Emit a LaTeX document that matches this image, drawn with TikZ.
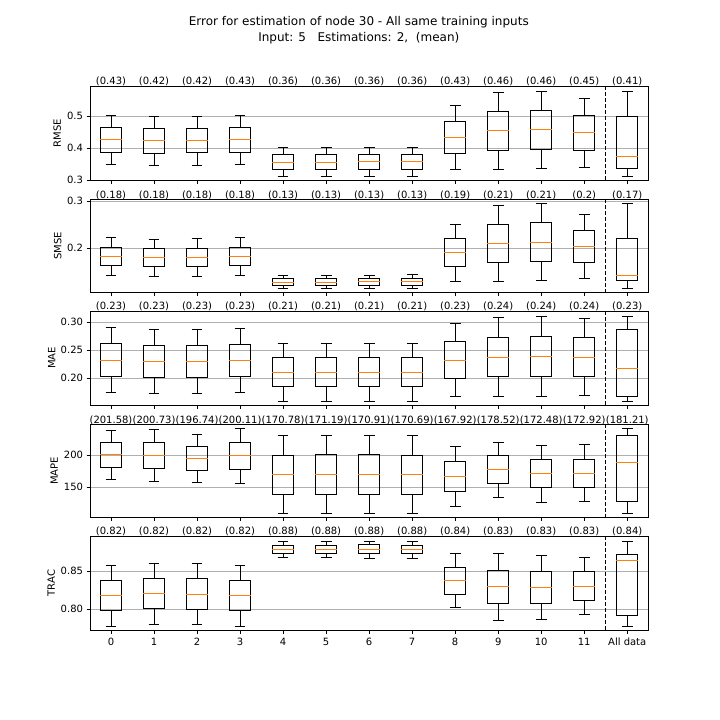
\documentclass[tikz,border=0pt]{standalone}
\usepackage{fontspec}
\setmainfont{DejaVu Sans}
\definecolor{mplorange}{RGB}{255,127,14}
\definecolor{mplgrid}{RGB}{176,176,176}
\tikzset{
  boxln/.style={black, line width=1pt},
  medln/.style={mplorange, line width=1pt},
  gridln/.style={mplgrid, line width=0.8pt},
  spine/.style={black, line width=0.8pt},
  tickln/.style={black, line width=0.8pt},
  sepln/.style={black, line width=1.2pt, dash pattern=on 4pt off 2pt},
  txt/.style={font=\fontsize{10}{12}\selectfont, inner sep=0pt, outer sep=0pt},
  ttl/.style={font=\fontsize{12}{14}\selectfont, inner sep=0pt, outer sep=0pt},
}
\newcommand\xpos[1]{\pgfmathsetmacro\cx{111+43.02*#1}}
\newcommand\onebox[6]{%
  \xpos{#1}%
  \draw[boxln] (\cx,#3) -- (\cx,#2);
  \draw[boxln] (\cx,#5) -- (\cx,#6);
  \draw[boxln] (\cx-5.4,#2) -- (\cx+5.4,#2);
  \draw[boxln] (\cx-5.4,#6) -- (\cx+5.4,#6);
  \draw[boxln] (\cx-10.75,#3) rectangle (\cx+10.75,#5);
  \draw[medln] (\cx-10.75,#4) -- (\cx+10.75,#4);
}
% #1 top, #2 bottom, #3 name, #4 ylabel, #5 ylabel centre x
\newcommand\panelframe[5]{%
  \draw[sepln] (605.7,#1) -- (605.7,#2);
  \draw[spine] (90,#1) rectangle (648.3,#2);
  \foreach \i in {0,...,12} {\xpos{\i}\draw[tickln] (\cx,#2) -- (\cx,#2+3.5);}
  \node[txt, rotate=90, anchor=center] (#3lab) at (#5,{(#1+#2)/2}) {#4};
}
\newcommand\ytick[3]{% #1 y, #2 text, #3 name
  \draw[gridln] (90,#1) -- (648.3,#1);
  \draw[tickln] (86.5,#1) -- (90,#1);
  \node[txt, anchor=base east] (#3) at (83,#1+3.6) {#2};
}
\newcommand\toplabels[2]{% #1 top y, #2 list
  \foreach \t [count=\k from 0] in {#2} {\xpos{\k}\node[txt, anchor=base] (tl\k) at (\cx,#1-1.3) {(\t)};}
}
\begin{document}
\begin{tikzpicture}[x=1pt,y=-1pt]
\useasboundingbox (0,0) rectangle (720,720);
\fill[white] (0,0) rectangle (720,720);
% title
\node[ttl, anchor=base] (title1) at (358.8,25) {Error for estimation of node 30 - All same training inputs};
\node[ttl, anchor=base] (title2) at (358.8,41) {Input: 5\ \ \ Estimations: 2,\ \ (mean)};

% ---------- Panel 1: RMSE ----------
\ytick{180}{0.3}{p1a}\ytick{148.3}{0.4}{p1b}\ytick{116.3}{0.5}{p1c}
\foreach \i/\a/\b/\c/\d/\e in {
 0/115.3/127.3/139.3/152.3/164.3, 1/116.3/128.3/140.3/153.3/165.3,
 2/116.3/128.3/140.3/152.3/165.3, 3/115.3/127.3/139.3/152.3/164.3,
 4/147.3/154.3/162/169.3/176.3, 5/147.3/154.3/162/169.3/176.3,
 6/147.3/154.3/161/169.3/176.3, 7/147.3/154.3/161/169.3/176.3,
 8/105.3/121.3/137.3/153.3/169.3, 9/92.3/111.3/130.3/150.3/169.3,
 10/91.3/110.3/129.3/149.3/168.3, 11/98.3/115.3/132.3/150.3/167.3,
 12/91.3/116.3/156.3/168.3/176.3}
 {\onebox{\i}{\a}{\b}{\c}{\d}{\e}}
\panelframe{86}{180}{p1}{RMSE}{57.3}
\toplabels{86}{0.43,0.42,0.42,0.43,0.36,0.36,0.36,0.36,0.43,0.46,0.46,0.45,0.41}

% ---------- Panel 2: SMSE ----------
\ytick{201}{0.3}{p2a}\ytick{248.3}{0.2}{p2b}
\foreach \i/\a/\b/\c/\d/\e in {
 0/237.3/247.3/256.3/265.3/275.3, 1/239.3/248.3/257.3/266.3/276.3,
 2/238.3/248.3/257.3/266.3/276.3, 3/237.3/247.3/256.3/265.3/275.3,
 4/275.3/278.3/282/285.3/288.3, 5/275.3/278.3/282/285.3/288.3,
 6/275.3/278.3/281/285.3/288.3, 7/274.3/278.3/281.3/285.3/288.3,
 8/224.3/238.3/252.3/266.3/281.3, 9/205.3/224.3/243.3/262.3/281.3,
 10/203.3/222.3/242.3/261.3/280.3, 11/214.3/230.3/246.3/262.3/278.3,
 12/203.3/238.3/275.3/280.3/288.3}
 {\onebox{\i}{\a}{\b}{\c}{\d}{\e}}
\panelframe{199.3}{292.7}{p2}{SMSE}{57.7}
\toplabels{199.3}{0.18,0.18,0.18,0.18,0.13,0.13,0.13,0.13,0.19,0.21,0.21,0.2,0.17}

% ---------- Panel 3: MAE ----------
\ytick{322.3}{0.30}{p3a}\ytick{350.3}{0.25}{p3b}\ytick{378.3}{0.20}{p3c}
\foreach \i/\a/\b/\c/\d/\e in {
 0/327.7/343.7/360.3/376.3/392.7, 1/329.3/345.7/361.7/377.3/393.3,
 2/329.3/345.7/361.7/377.3/393.3, 3/328.7/344.7/360.3/376.3/392.7,
 4/343.7/357.3/372.3/386.3/401.7, 5/343.7/357.3/372.3/386.3/401.7,
 6/343.7/357.3/372.3/386.3/401.7, 7/343.7/357.3/372.3/386.3/401.7,
 8/323.7/341.7/360.3/378.3/396.3, 9/317.7/337.7/357.3/376.3/396.3,
 10/316.7/336.7/356.3/376.3/396.3, 11/318.7/337.7/357.3/376.3/395.3,
 12/316.7/329.7/368.3/396.3/401.7}
 {\onebox{\i}{\a}{\b}{\c}{\d}{\e}}
\panelframe{311}{405}{p3}{MAE}{51.7}
\toplabels{311}{0.23,0.23,0.23,0.23,0.21,0.21,0.21,0.21,0.23,0.24,0.24,0.24,0.23}

% ---------- Panel 4: MAPE ----------
\ytick{455.3}{200}{p4a}\ytick{487.3}{150}{p4b}
\foreach \i/\a/\b/\c/\d/\e in {
 0/430.3/442.3/454.7/467.3/479.3, 1/429.3/442.3/455.7/468.3/481.3,
 2/434.3/446.3/458.3/470.3/482.3, 3/428.3/442.3/455.7/469.3/483.3,
 4/435.3/455.3/474.3/494.3/513.3, 5/435.3/454.3/474.3/494.3/513.3,
 6/435.3/454.3/474.3/494.3/513.3, 7/435.3/455.3/474.3/494.3/513.3,
 8/446.3/461.3/476.3/491.3/506.3, 9/442.3/455.3/469.3/483.3/497.3,
 10/445.3/459.3/473.3/487.3/502.3, 11/444.3/459.3/473.3/487.3/501.3,
 12/428.3/435.3/462.3/501.3/513.3}
 {\onebox{\i}{\a}{\b}{\c}{\d}{\e}}
\panelframe{424.3}{517.7}{p4}{MAPE}{54.3}
\toplabels{424.3}{201.58,200.73,196.74,200.11,170.78,171.19,170.91,170.69,167.92,178.52,172.48,172.92,181.21}

% ---------- Panel 5: TRAC ----------
\ytick{571.3}{0.85}{p5a}\ytick{609.3}{0.80}{p5b}
\foreach \i/\a/\b/\c/\d/\e in {
 0/565.3/580.3/595.7/610.3/626.3, 1/563.3/578.3/593.3/608.3/624.3,
 2/563.3/578.3/594.3/609.3/624.3, 3/565.3/580.3/595.7/610.3/626.3,
 4/541.3/545.3/549.3/553.3/557.3, 5/541.3/545.3/549.3/553.3/557.3,
 6/541.3/544.3/549.3/553.3/558.3, 7/541.3/545.3/549.3/553.3/558.3,
 8/553.3/567.3/580.3/594.3/607.3, 9/553.3/570.3/586.3/603.3/620.3,
 10/555.3/571.3/587.3/603.3/619.3, 11/557.3/571.3/586.3/600.3/614.3,
 12/541.3/554.3/560.3/615.3/626.3}
 {\onebox{\i}{\a}{\b}{\c}{\d}{\e}}
\panelframe{536}{630}{p5}{TRAC}{51.3}
\toplabels{536}{0.82,0.82,0.82,0.82,0.88,0.88,0.88,0.88,0.84,0.83,0.83,0.83,0.84}
\foreach \t [count=\k from 0] in {0,1,2,3,4,5,6,7,8,9,10,11,All data}
 {\xpos{\k}\node[txt, anchor=base] (xl\k) at (\cx,645) {\t};}
\end{tikzpicture}
\end{document}
